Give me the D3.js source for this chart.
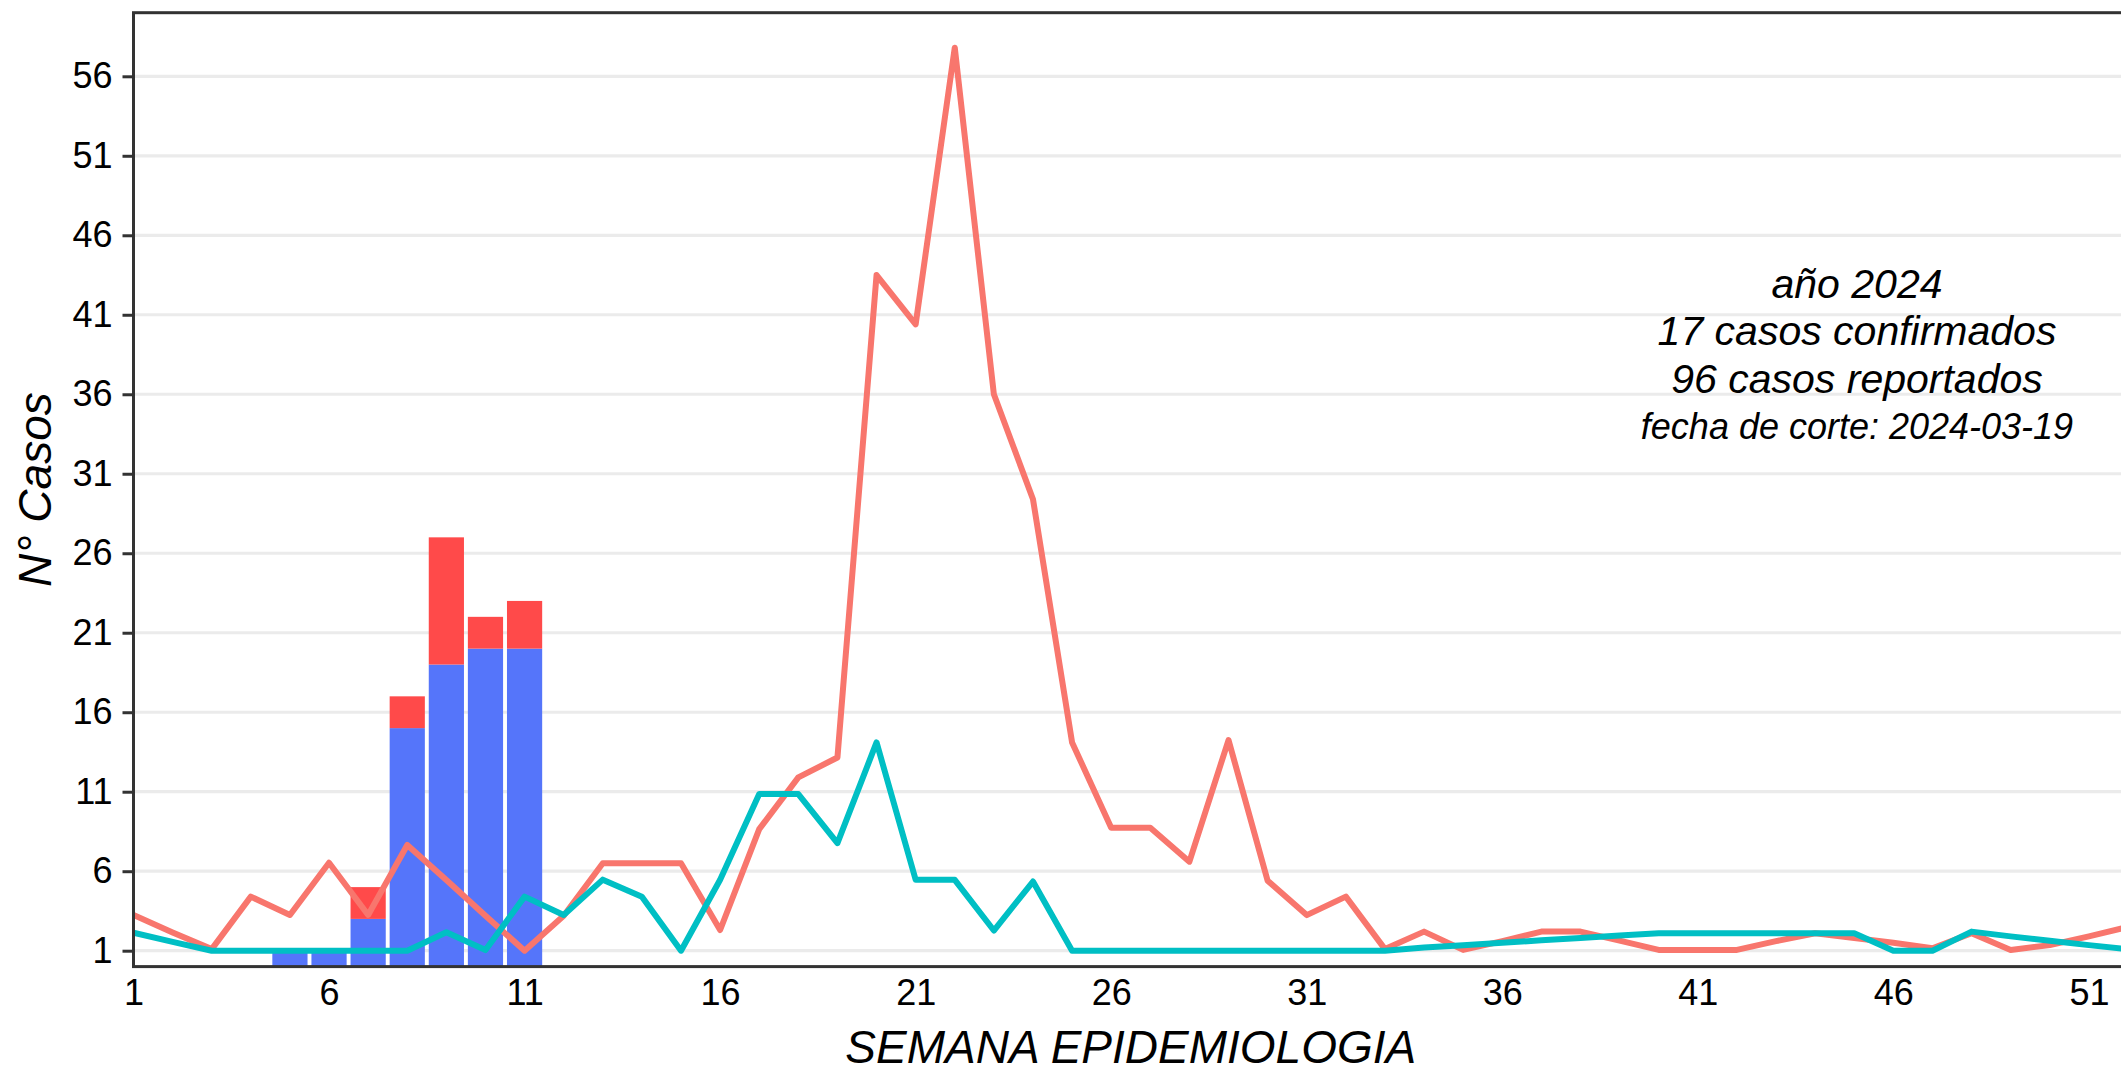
<!DOCTYPE html>
<html>
<head>
<meta charset="utf-8">
<script src="https://cdn.jsdelivr.net/npm/d3@7"></script>
<style>
  body { margin: 0; background: #ffffff; }
  svg { display: block; }
  text { font-family: "Liberation Sans", Arial, Helvetica, sans-serif; fill: #000; }
</style>
</head>
<body>
<svg id="chart" width="2121" height="1074"></svg>
<script>
// ---------- data ----------
const weeks = d3.range(1, 53);
const barWeeks = [5, 6, 7, 8, 9, 10, 11];
const reportedNotConfirmed = [1, 1, 3, 15, 19, 20, 20];
const confirmed = [0, 0, 2, 2, 8, 2, 3];
const seriesSalmon = [
  3.25, 2.15, 1.1, 4.4, 3.25, 6.53, 3.25, 7.65, 5.45, 3.2,
  1.0, 3.2, 6.5, 6.5, 6.5, 2.3, 8.65, 11.9, 13.15, 43.5,
  40.4, 57.8, 36.0, 29.4, 14.1, 8.73, 8.73, 6.6, 14.25, 5.4,
  3.24, 4.4, 1.1, 2.2, 1.05, 1.6, 2.2, 2.2, 1.63, 1.05,
  1.05, 1.05, 1.6, 2.1, 1.8, 1.5, 1.15, 2.1, 1.05, 1.35,
  1.9, 2.5
];
const seriesTeal = [
  2.13, 1.56, 1.0, 1.0, 1.0, 1.0, 1.0, 1.0, 2.16, 1.04,
  4.4, 3.25, 5.47, 4.4, 1.0, 5.46, 10.85, 10.85, 7.77, 14.1,
  5.46, 5.46, 2.27, 5.35, 1.0, 1.0, 1.0, 1.0, 1.0, 1.0,
  1.0, 1.0, 1.0, 1.2, 1.35, 1.5, 1.65, 1.8, 1.95, 2.1,
  2.1, 2.1, 2.1, 2.1, 2.1, 1.0, 1.0, 2.2, 1.9, 1.63,
  1.35, 1.1
];
const xTicks = [1, 6, 11, 16, 21, 26, 31, 36, 41, 46, 51];
const yTicks = [1, 6, 11, 16, 21, 26, 31, 36, 41, 46, 51, 56];
const annotationLines = ["año 2024", "17 casos confirmados", "96 casos reportados"];
const annotationNote = "fecha de corte: 2024-03-19";
const xTitle = "SEMANA EPIDEMIOLOGIA";
const yTitle = "N° Casos";

// ---------- layout ----------
const panel = { left: 133.5, right: 2128, top: 12.7, bottom: 966.6 };
const svg = d3.select("#chart");

const x = d3.scaleLinear().domain([1, 52]).range([panel.left, panel.right]);
const y = d3.scaleLinear().domain([0, 60]).range([panel.bottom, panel.top]);
const step = x(2) - x(1);
const barW = step * 0.9;

svg.append("defs").append("clipPath").attr("id", "clip")
  .append("rect")
  .attr("x", panel.left).attr("y", panel.top)
  .attr("width", panel.right - panel.left).attr("height", panel.bottom - panel.top);

// gridlines
svg.append("g").selectAll("line").data(yTicks).join("line")
  .attr("x1", panel.left).attr("x2", panel.right)
  .attr("y1", d => y(d)).attr("y2", d => y(d))
  .attr("stroke", "#EBEBEB").attr("stroke-width", 3.2);

const plot = svg.append("g").attr("clip-path", "url(#clip)");

// stacked bars
const barData = barWeeks.map((w, i) => ({ w, base: reportedNotConfirmed[i], conf: confirmed[i] }));
plot.append("g").selectAll("rect").data(barData).join("rect")
  .attr("x", d => x(d.w) - barW / 2)
  .attr("width", barW)
  .attr("y", d => y(d.base))
  .attr("height", d => y(0) - y(d.base))
  .attr("fill", "#5575FA");
plot.append("g").selectAll("rect").data(barData.filter(d => d.conf > 0)).join("rect")
  .attr("x", d => x(d.w) - barW / 2)
  .attr("width", barW)
  .attr("y", d => y(d.base + d.conf))
  .attr("height", d => y(d.base) - y(d.base + d.conf))
  .attr("fill", "#FF4A4A");

// lines
const line = d3.line().x((d, i) => x(weeks[i])).y(d => y(d));
plot.append("path").datum(seriesSalmon)
  .attr("d", line).attr("fill", "none")
  .attr("stroke", "#F8766D").attr("stroke-width", 6)
  .attr("stroke-linejoin", "round").attr("stroke-linecap", "round");
plot.append("path").datum(seriesTeal)
  .attr("d", line).attr("fill", "none")
  .attr("stroke", "#00BFC4").attr("stroke-width", 6)
  .attr("stroke-linejoin", "round").attr("stroke-linecap", "round");

// panel border
svg.append("rect")
  .attr("x", panel.left).attr("y", panel.top)
  .attr("width", panel.right - panel.left).attr("height", panel.bottom - panel.top)
  .attr("fill", "none").attr("stroke", "#333333").attr("stroke-width", 3);

// y axis ticks + labels
const yAxis = d3.axisLeft(y).tickValues(yTicks).tickSize(11).tickPadding(10).tickFormat(d3.format("d"));
const gy = svg.append("g").attr("transform", `translate(${panel.left},0)`).call(yAxis);
gy.select(".domain").remove();
gy.selectAll(".tick line").attr("stroke", "#333333").attr("stroke-width", 3);
gy.selectAll(".tick text")
  .attr("font-size", 36).attr("fill", "#000")
  .style("font-family", '"Liberation Sans", Arial, sans-serif');

// x axis labels (no tick marks)
const xAxis = d3.axisBottom(x).tickValues(xTicks).tickSize(0).tickPadding(38).tickFormat(d3.format("d"));
const gx = svg.append("g").attr("transform", `translate(0,${panel.bottom})`).call(xAxis);
gx.select(".domain").remove();
gx.selectAll(".tick text")
  .attr("font-size", 36).attr("fill", "#000").attr("dy", 0)
  .style("font-family", '"Liberation Sans", Arial, sans-serif');

// axis titles
svg.append("text")
  .attr("x", (panel.left + panel.right) / 2).attr("y", 1063)
  .attr("text-anchor", "middle").attr("font-size", 46).attr("font-style", "italic")
  .text(xTitle);
svg.append("text")
  .attr("transform", `translate(51,${(panel.top + panel.bottom) / 2}) rotate(-90)`)
  .attr("text-anchor", "middle").attr("font-size", 46).attr("font-style", "italic")
  .text(yTitle);

// annotation
const annX = 1857;
svg.append("g").selectAll("text").data(annotationLines).join("text")
  .attr("x", annX).attr("y", (d, i) => 298 + i * 47.4)
  .attr("text-anchor", "middle").attr("font-size", 41).attr("font-style", "italic")
  .text(d => d);
svg.append("text")
  .attr("x", annX).attr("y", 439)
  .attr("text-anchor", "middle").attr("font-size", 36).attr("font-style", "italic")
  .text(annotationNote);
</script>
</body>
</html>
